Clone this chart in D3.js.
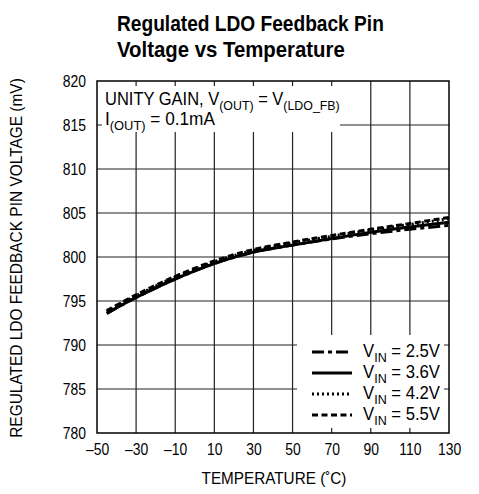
<!DOCTYPE html>
<html>
<head>
<meta charset="utf-8">
<script src="https://cdn.jsdelivr.net/npm/d3@7"></script>
<style>
  body { margin: 0; background: #fff; }
  svg text { font-family: "Liberation Sans", Arial, sans-serif; fill: #000; }
</style>
</head>
<body>
<div id="chart"></div>
<script>
"use strict";

var temps = [-45, -30, -10, 10, 30, 50, 70, 90, 110, 130];
var vin25 = [793.6, 795.4, 797.5, 799.25, 800.55, 801.35, 802.05, 802.65, 803.15, 803.6];
var vin36 = [793.6, 795.4, 797.5, 799.25, 800.55, 801.35, 802.1, 802.8, 803.4, 803.95];
var vin42 = [793.8, 795.6, 797.7, 799.45, 800.75, 801.6, 802.35, 803.05, 803.7, 804.35];
var vin55 = [793.9, 795.7, 797.8, 799.55, 800.85, 801.7, 802.45, 803.15, 803.8, 804.5];
var seriesNames = ["2.5V", "3.6V", "4.2V", "5.5V"];
var xTicks = [-50, -30, -10, 10, 30, 50, 70, 90, 110, 130];
var yTicks = [780, 785, 790, 795, 800, 805, 810, 815, 820];

var width = 479, height = 494;
var margin = { left: 97, top: 81, right: 30, bottom: 61 };
var pw = width - margin.left - margin.right,
  ph = height - margin.top - margin.bottom;

// squeeze text horizontally around its anchor (no condensed font installed)
function scaleX(node, s) {
  var x0 = +node.getAttribute("x") || 0, y0 = +node.getAttribute("y") || 0;
  var tr = node.getAttribute("transform") || "";
  node.setAttribute("transform", tr + " translate(" + x0 + "," + y0 + ") scale(" + s + ",1) translate(" + (-x0) + "," + (-y0) + ")");
}
function fit(sel, target) {
  sel.each(function() { scaleX(this, target / this.getBBox().width); });
}

var svg = d3.select("#chart").append("svg")
  .attr("width", width)
  .attr("height", height);

// title
var t1 = svg.append("text").attr("x", 117).attr("y", 31)
  .style("font-weight", "bold").style("font-size", "22px")
  .text("Regulated LDO Feedback Pin");
fit(t1, 267);
var t2 = svg.append("text").attr("x", 117).attr("y", 57)
  .style("font-weight", "bold").style("font-size", "22px")
  .text("Voltage vs Temperature");
fit(t2, 228);

var g = svg.append("g")
  .attr("transform", "translate(" + margin.left + "," + margin.top + ")");

var x = d3.scaleLinear().domain([-50, 130]).range([0, pw]);
var y = d3.scaleLinear().domain([780, 820]).range([ph, 0]);

// grid
g.append("g").attr("class", "grid")
  .selectAll("line")
  .data(xTicks.slice(1, -1))
  .enter().append("line")
  .attr("x1", function(d) { return x(d); })
  .attr("x2", function(d) { return x(d); })
  .attr("y1", 0).attr("y2", ph)
  .style("stroke", "#222").style("stroke-width", 1.2);
g.append("g").attr("class", "grid")
  .selectAll("line")
  .data(yTicks.slice(1, -1))
  .enter().append("line")
  .attr("y1", function(d) { return y(d); })
  .attr("y2", function(d) { return y(d); })
  .attr("x1", 0).attr("x2", pw)
  .style("stroke", "#222").style("stroke-width", 1.2);

// annotation box (covers grid)
g.append("rect")
  .attr("x", 5).attr("y", 5)
  .attr("width", 238).attr("height", 46)
  .style("fill", "#fff");

var ann = g.append("text").attr("x", 8).attr("y", 24).style("font-size", "18px");
ann.append("tspan").text("UNITY GAIN, V");
ann.append("tspan").attr("dy", 5).style("font-size", "13.5px").text("(OUT)");
ann.append("tspan").attr("dy", -5).text(" = V");
ann.append("tspan").attr("dy", 5).style("font-size", "13.5px").text("(LDO_FB)");
fit(ann, 235);
var ann2 = g.append("text").attr("x", 8).attr("y", 44).style("font-size", "18px");
ann2.append("tspan").text("I");
ann2.append("tspan").attr("dy", 5).style("font-size", "13.5px").text("(OUT)");
ann2.append("tspan").attr("dy", -5).text(" = 0.1mA");
fit(ann2, 110);

// curves
var styles = [
  { dash: "12,4,4,4" },
  { dash: null },
  { dash: "2,3" },
  { dash: "6,3.5" }
];
var allSeries = [vin25, vin36, vin42, vin55];

var line = d3.line()
  .x(function(d) { return x(d[0]); })
  .y(function(d) { return y(d[1]); })
  .curve(d3.curveCatmullRom.alpha(0.5));

allSeries.forEach(function(vals, i) {
  var pts = temps.map(function(t, j) { return [t, vals[j]]; });
  g.append("path")
    .attr("d", line(pts))
    .style("fill", "none")
    .style("stroke", "#000")
    .style("stroke-width", 3)
    .style("stroke-dasharray", styles[i].dash);
});

// legend
var lg = g.append("g").attr("transform", "translate(" + (pw - 152) + "," + (ph - 98) + ")");
lg.append("rect").attr("x", 0).attr("y", 0).attr("width", 147).attr("height", 93)
  .style("fill", "#fff");
seriesNames.forEach(function(name, i) {
  var ly = 17 + i * 21;
  lg.append("line")
    .attr("x1", 15).attr("x2", 55)
    .attr("y1", ly).attr("y2", ly)
    .style("stroke", "#000")
    .style("stroke-width", 3)
    .style("stroke-dasharray", styles[i].dash);
  var t = lg.append("text")
    .attr("x", 143).attr("y", ly + 5)
    .attr("text-anchor", "end")
    .style("font-size", "18px");
  t.append("tspan").text("V");
  t.append("tspan").attr("dy", 5).style("font-size", "13.5px").text("IN");
  t.append("tspan").attr("dy", -5).text(" = " + name);
  fit(t, 77);
});

// frame
g.append("rect")
  .attr("width", pw).attr("height", ph)
  .style("fill", "none").style("stroke", "#000").style("stroke-width", 1.5);

// axes
var xAxis = d3.axisBottom(x).tickValues(xTicks).tickSize(0).tickPadding(10)
  .tickFormat(function(d) { return d < 0 ? "\u2013" + (-d) : d; });
var xg = g.append("g").attr("transform", "translate(0," + ph + ")").call(xAxis);
xg.select(".domain").remove();
xg.selectAll("text").style("font-size", "17px").style("font-family", null)
  .each(function() { scaleX(this, 0.82); });

var yAxis = d3.axisLeft(y).tickValues(yTicks).tickSize(0).tickPadding(11);
var yg = g.append("g").call(yAxis);
yg.select(".domain").remove();
yg.selectAll("text").style("font-size", "17px").style("font-family", null)
  .each(function() { scaleX(this, 0.82); });

// axis titles
var xt = g.append("text")
  .attr("x", pw / 2 + 1).attr("y", ph + 51)
  .attr("text-anchor", "middle")
  .style("font-size", "17px")
  .text("TEMPERATURE (\u02DAC)");
fit(xt, 145);

var yt = g.append("text")
  .attr("transform", "translate(-75," + (ph / 2 + 1) + ") rotate(-90)")
  .attr("text-anchor", "middle")
  .style("font-size", "16px")
  .text("REGULATED LDO FEEDBACK PIN VOLTAGE (mV)");
fit(yt, 360);
</script>
</body>
</html>
